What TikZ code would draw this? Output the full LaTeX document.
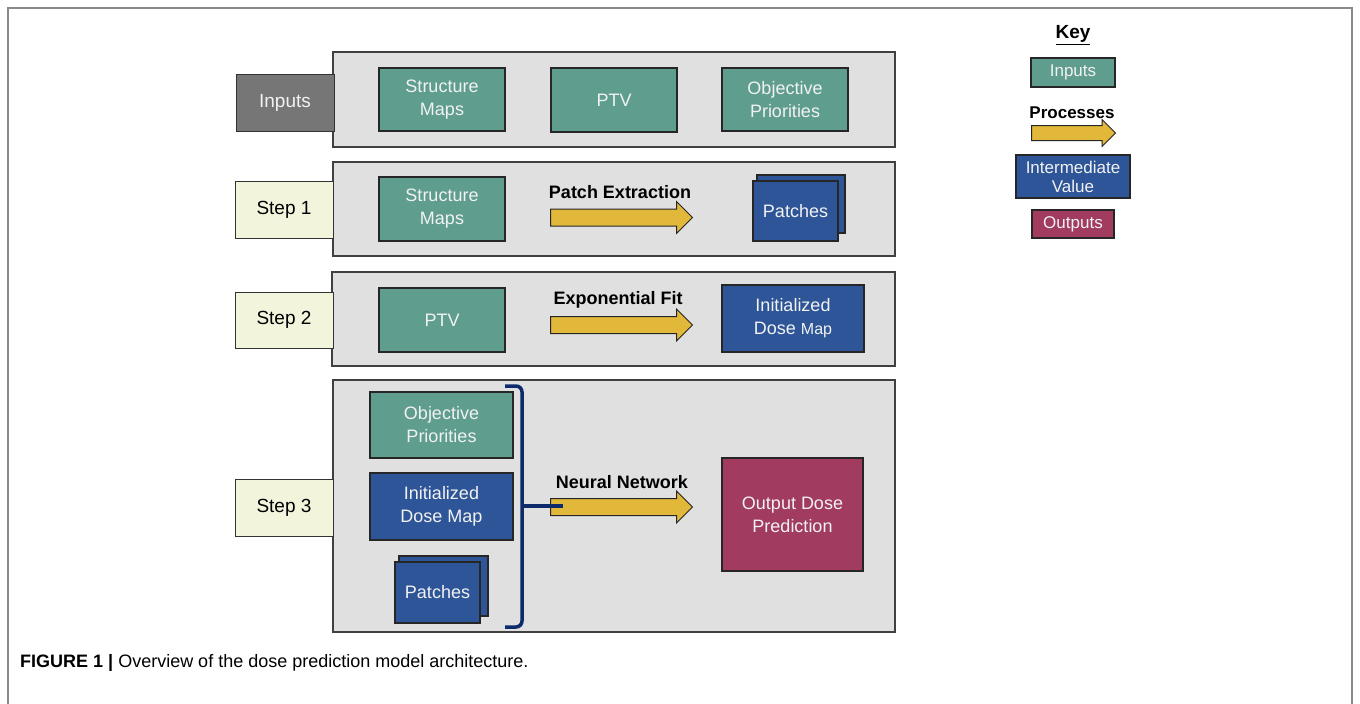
\documentclass[tikz,border=0pt]{standalone}
\usepackage{fontspec}
\setmainfont{Liberation Sans}
\usetikzlibrary{shapes.arrows}
\definecolor{inteal}{HTML}{5F9D8F}
\definecolor{midblue}{HTML}{2D5597}
\definecolor{outred}{HTML}{A13B5F}
\definecolor{procyel}{HTML}{E1B83A}
\definecolor{panelgray}{HTML}{E0E0E0}
\definecolor{rowgray}{HTML}{767676}
\definecolor{stepfill}{HTML}{F2F4DC}
\definecolor{bracecol}{HTML}{0D2A6B}
\definecolor{framecol}{HTML}{8A8A8A}
\definecolor{boxtext}{HTML}{F2F2F2}
\tikzset{
  panel/.style={draw=black!75, line width=1.3pt, fill=panelgray, inner sep=0pt},
  rowlab/.style={draw=black!80, line width=1pt, inner sep=0pt, align=center,
    font=\fontsize{19}{21}\selectfont},
  inbox/.style={draw=black!85, line width=1.3pt, fill=inteal, text=boxtext,
    inner sep=0pt, align=center, font=\fontsize{18}{23}\selectfont},
  midbox/.style={inbox, fill=midblue},
  outbox/.style={inbox, fill=outred},
  procarrow/.style={single arrow, draw=black!85, line width=1pt, fill=procyel,
    inner xsep=0pt, inner ysep=8pt, single arrow head extend=7.5pt,
    minimum height=142pt, shape border rotate=0, anchor=tail},
  proclab/.style={font=\bfseries\fontsize{18}{20}\selectfont, inner sep=0pt},
  keybox/.style={font=\fontsize{17}{19}\selectfont}
}
\begin{document}
\begin{tikzpicture}[x=1pt, y=-1pt]
\useasboundingbox (0,0) rectangle (1360,704);
% outer figure frame
\draw[framecol, line width=1.2pt] (8,704) -- (8,8) -- (1352,8) -- (1352,704);

% row panels
\node[panel, minimum width=562pt, minimum height=95pt] (p0) at (614,99.5) {};
\node[panel, minimum width=562pt, minimum height=94pt] (p1) at (614,209) {};
\node[panel, minimum width=563pt, minimum height=94pt] (p2) at (613.5,319) {};
\node[panel, minimum width=562pt, minimum height=252pt] (p3) at (614,506) {};

% row labels
\node[rowlab, fill=rowgray, text=boxtext, minimum width=98pt, minimum height=57pt] (lin) at (285,102.5) {Inputs};
\node[rowlab, fill=stepfill, minimum width=98pt, minimum height=57pt] (ls1) at (284,209.5) {Step 1};
\node[rowlab, fill=stepfill, minimum width=98pt, minimum height=56pt] (ls2) at (284,320) {Step 2};
\node[rowlab, fill=stepfill, minimum width=98pt, minimum height=57pt] (ls3) at (284,507.5) {Step 3};

% inputs row
\node[inbox, minimum width=126pt, minimum height=63pt] (sm0) at (442,99.5) {Structure\\Maps};
\node[inbox, minimum width=126pt, minimum height=64pt] (ptv0) at (614,100) {PTV};
\node[inbox, minimum width=126pt, minimum height=63pt] (op0) at (785,99.5) {Objective\\Priorities};

% step 1
\node[inbox, minimum width=126pt, minimum height=64pt] (sm1) at (442,209) {Structure\\Maps};
\node[procarrow] (a1) at (550,217.5) {};
\node[proclab] (t1) at (620,192) {Patch Extraction};
\node[midbox, minimum width=88pt, minimum height=58pt] (pb1) at (801,204) {};
\node[midbox, minimum width=85pt, minimum height=60pt] (pf1) at (795.5,211) {Patches};

% step 2
\node[inbox, minimum width=126pt, minimum height=64pt] (ptv2) at (442,320) {PTV};
\node[procarrow] (a2) at (550,325) {};
\node[proclab] (t2) at (618,300) {Exponential Fit};
\node[midbox, minimum width=142pt, minimum height=67pt] (idm2) at (793,318.5) {Initialized\\Dose {\fontsize{16}{20}\selectfont Map}};

% step 3
\node[inbox, minimum width=143pt, minimum height=66pt] (op3) at (441.5,425) {Objective\\Priorities};
\node[midbox, minimum width=143pt, minimum height=67pt] (idm3) at (441.5,506.5) {Initialized\\Dose Map};
\node[midbox, minimum width=89pt, minimum height=60pt] (pb3) at (443.5,586) {};
\node[midbox, minimum width=85pt, minimum height=61pt] (pf3) at (437.5,592.5) {Patches};
\node[procarrow] (a3) at (550,507) {};
\node[proclab] (t3) at (622,482) {Neural Network};
\node[outbox, minimum width=141pt, minimum height=113pt] (out3) at (792.5,514.5) {Output Dose\\Prediction};

% bracket gathering the step 3 inputs
\coordinate (bt) at (505,386);
\coordinate (bb) at (505,627);
\coordinate (bm) at (522,506);
\draw[bracecol, line width=3.5pt, rounded corners=6pt] (bt) -- (522,386) -- (522,627) -- (bb);
\draw[bracecol, line width=3.5pt] (bm) -- (bm -| 563,0);

% key
\node[font=\bfseries\fontsize{19}{21}\selectfont, inner sep=0pt] (kt) at (1073,35) {\underline{Key}};
\node[inbox, keybox, minimum width=84pt, minimum height=29pt] (kin) at (1073,72.5) {Inputs};
\node[proclab, font=\bfseries\fontsize{17}{19}\selectfont] (kpt) at (1072,113) {Processes};
\node[procarrow, minimum height=84pt, inner ysep=7pt, single arrow head extend=6pt] (kpa) at (1031,133) {};
\node[midbox, keybox, minimum width=114pt, minimum height=43pt] (kmid) at (1073,176.5) {Intermediate\\Value};
\node[outbox, keybox, minimum width=82pt, minimum height=28pt] (kout) at (1073,224) {Outputs};

% caption
\node[anchor=base west, inner sep=0pt, font=\fontsize{18}{20}\selectfont] (cap) at (20,667)
  {\textbf{FIGURE 1 |} Overview of the dose prediction model architecture.};
\end{tikzpicture}
\end{document}
